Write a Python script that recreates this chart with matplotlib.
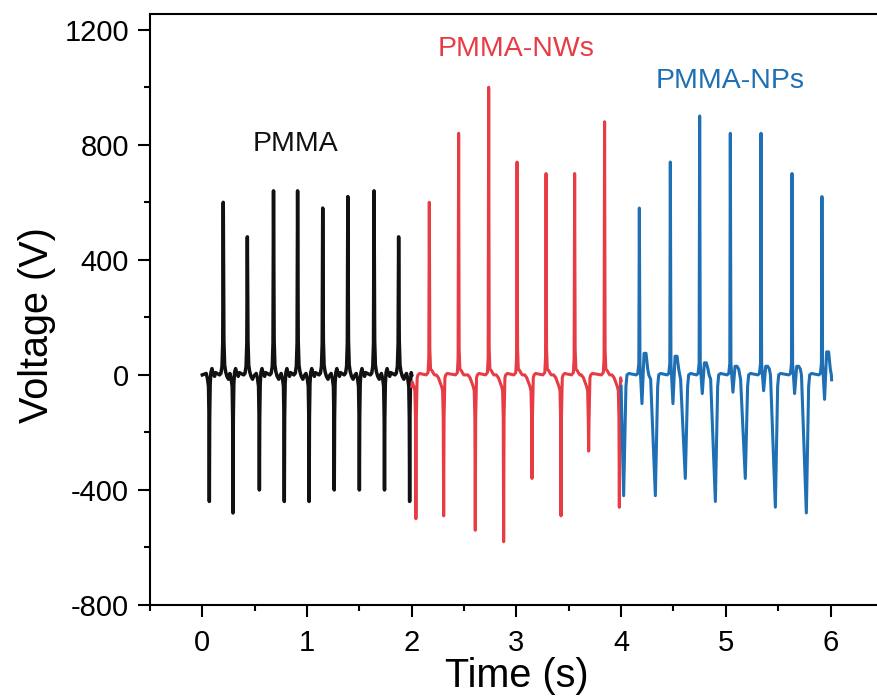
import matplotlib
matplotlib.use("Agg")
import matplotlib.pyplot as plt
from matplotlib.ticker import MultipleLocator

plt.rcParams['font.family'] = ['Liberation Sans', 'DejaVu Sans']
plt.rcParams['axes.unicode_minus'] = False

# ---------------- data ----------------
# PMMA (black)
pmma_pos_t = [0.20, 0.43, 0.68, 0.91, 1.15, 1.39, 1.64, 1.875]
pmma_pos_v = [600, 480, 640, 640, 580, 620, 640, 480]
pmma_neg_t = [0.067, 0.293, 0.545, 0.783, 1.02, 1.26, 1.50, 1.74, 1.98]
pmma_neg_v = [-440, -480, -400, -440, -440, -400, -400, -400, -440]

# PMMA-NWs (red)
nws_pos_t = [2.168, 2.448, 2.735, 3.006, 3.283, 3.556, 3.842]
nws_pos_v = [600, 840, 1000, 740, 700, 700, 880]
nws_neg_t = [2.04, 2.305, 2.607, 2.878, 3.149, 3.426, 3.69, 3.983]
nws_neg_v = [-500, -490, -540, -580, -360, -490, -265, -460]

# PMMA-NPs (blue)
nps_pos_t = [4.174, 4.47, 4.75, 5.043, 5.336, 5.632, 5.918]
nps_pos_v = [580, 740, 900, 840, 840, 700, 620]
nps_dip_v = [-100, -100, -65, -60, -55, -65, -85]
nps_hump_v = [75, 65, 42, 30, 30, 30, 80]
nps_neg_t = [4.024, 4.327, 4.613, 4.90, 5.186, 5.473, 5.769]
nps_neg_v = [-420, -420, -360, -440, -360, -460, -480]

labels = ["PMMA", "PMMA-NWs", "PMMA-NPs"]
colors = ["#111111", "#E83C45", "#1E6FB4"]

# spike shapes (offset in s, value in V or key of the event's own values)
black_pos = [(-0.035, 0), (-0.022, 6), (-0.012, 30), (-0.005, 110), (0.0, 'p'),
             (0.006, 120), (0.013, 35), (0.022, 12), (0.035, -5), (0.05, -15), (0.06, -5)]
black_neg = [(-0.03, 5), (-0.018, -12), (-0.008, -40), (-0.003, -150), (0.0, 'p'),
             (0.003, -150), (0.008, -30), (0.015, 8), (0.025, 22), (0.035, 5),
             (0.05, -5), (0.06, 8)]
red_pos = [(-0.03, 0), (-0.012, 8), (-0.005, 60), (0.0, 'p'), (0.005, 90),
           (0.012, 20), (0.025, 15), (0.04, 5), (0.05, 0)]
red_neg = [(-0.07, 0), (-0.05, -10), (-0.035, -25), (-0.02, -40), (-0.01, -55),
           (-0.004, -150), (0.0, 'p'), (0.004, -150), (0.012, -10), (0.02, 0), (0.035, 5)]
blue_pos = [(-0.03, 0), (-0.015, 5), (-0.005, 40), (0.0, 'p'), (0.006, 40),
            (0.025, 'dip'), (0.045, 'hump'), (0.064, 'hump'), (0.08, 20), (0.09, 0)]
blue_neg = [(-0.045, -15), (0.0, 'p'), (0.022, -40), (0.032, 0), (0.05, 5)]


def build(t0, v0, t1, v1, events):
    pts = [(t0, v0)]
    for tc, params, shape in sorted(events, key=lambda e: e[0]):
        for dt, v in shape:
            val = params[v] if isinstance(v, str) else v
            pts.append((tc + dt, val))
    pts.append((t1, v1))
    pts = [p for p in pts if t0 <= p[0] <= t1]
    pts.sort(key=lambda p: p[0])
    return [p[0] for p in pts], [p[1] for p in pts]


ev_black = [(t, {'p': v}, black_pos) for t, v in zip(pmma_pos_t, pmma_pos_v)] + \
           [(t, {'p': v}, black_neg) for t, v in zip(pmma_neg_t, pmma_neg_v)]
ev_red = [(t, {'p': v}, red_pos) for t, v in zip(nws_pos_t, nws_pos_v)] + \
         [(t, {'p': v}, red_neg) for t, v in zip(nws_neg_t, nws_neg_v)]
ev_blue = [(t, {'p': v, 'dip': d, 'hump': h}, blue_pos)
           for t, v, d, h in zip(nps_pos_t, nps_pos_v, nps_dip_v, nps_hump_v)] + \
          [(t, {'p': v}, blue_neg) for t, v in zip(nps_neg_t, nps_neg_v)]

xb, yb = build(0.0, 0, 2.0, 0, ev_black)
xr, yr = build(2.0, -40, 4.0, -20, ev_red)
xn, yn = build(4.0, -40, 6.01, -17, ev_blue)

# ---------------- figure ----------------
fig = plt.figure(figsize=(8.77, 6.97), dpi=100)
ax = fig.add_axes([0.171, 0.132, 0.8357, 0.848])

ax.plot(xb, yb, color=colors[0], lw=2.5, solid_joinstyle='round')
ax.plot(xr, yr, color=colors[1], lw=2.2, solid_joinstyle='round')
ax.plot(xn, yn, color=colors[2], lw=2.2, solid_joinstyle='round')

ax.set_xlim(-0.5, 6.5)
ax.set_ylim(-800, 1255)

ax.xaxis.set_major_locator(MultipleLocator(1))
ax.xaxis.set_minor_locator(MultipleLocator(0.5))
ax.yaxis.set_major_locator(MultipleLocator(400))
ax.yaxis.set_minor_locator(MultipleLocator(200))

ax.tick_params(which='both', direction='out', width=1.5, top=False, right=False)
ax.tick_params(which='major', length=8.5, labelsize=21)
ax.tick_params(axis='x', which='major', pad=9)
ax.tick_params(axis='y', which='major', pad=6.5)
ax.tick_params(which='minor', length=4.5)
for s in ax.spines.values():
    s.set_linewidth(1.5)

ax.set_xlabel("Time (s)", fontsize=28.5, labelpad=0)
ax.set_ylabel("Voltage (V)", fontsize=28.5)
ax.yaxis.set_label_coords(-0.128, 0.474)

ax.text(0.89, 779, labels[0], color=colors[0], fontsize=20.5, ha='center', va='baseline')
ax.text(3.0, 1110, labels[1], color=colors[1], fontsize=20.5, ha='center', va='baseline')
ax.text(5.04, 998, labels[2], color=colors[2], fontsize=20.5, ha='center', va='baseline')

fig.savefig("out.png", dpi=100)
